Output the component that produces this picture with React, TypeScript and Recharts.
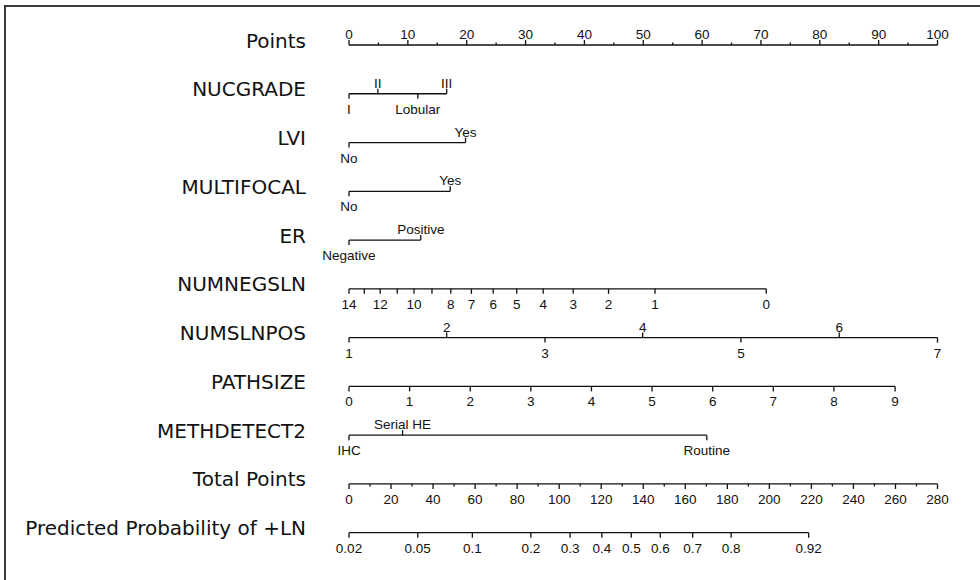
import React from "react";
import { ComposedChart, Line, XAxis, YAxis } from "recharts";

const ROW_NAMES = [
  "Points", "NUCGRADE", "LVI", "MULTIFOCAL", "ER", "NUMNEGSLN",
  "NUMSLNPOS", "PATHSIZE", "METHDETECT2", "Total Points", "Predicted Probability of +LN",
];

// points scale (0-100), minor ticks every 5
const POINTS_VALUES = [0, 5, 10, 15, 20, 25, 30, 35, 40, 45, 50, 55, 60, 65, 70, 75, 80, 85, 90, 95, 100];

const NUCGRADE_LABELS = ["I", "II", "Lobular", "III"];
const NUCGRADE_PTS = [0, 4.9, 11.7, 16.6];
const NUCGRADE_SIDE = ["down", "up", "down", "up"];

const LVI_LABELS = ["No", "Yes"];
const LVI_PTS = [0, 19.8];

const MULTIFOCAL_LABELS = ["No", "Yes"];
const MULTIFOCAL_PTS = [0, 17.2];

const ER_LABELS = ["Negative", "Positive"];
const ER_PTS = [0, 12.2];

const NUMNEGSLN_LABELS = ["14", "", "12", "", "10", "", "8", "7", "6", "5", "4", "3", "2", "1", "0"];
const NUMNEGSLN_PTS = [0, 2.6, 5.3, 8.2, 11.05, 14.1, 17.3, 20.8, 24.5, 28.5, 33.0, 38.1, 44.1, 52.0, 70.9];

const NUMSLNPOS_LABELS = ["1", "2", "3", "4", "5", "6", "7"];
const NUMSLNPOS_PTS = [0, 16.6, 33.3, 49.9, 66.6, 83.3, 100];

const PATHSIZE_LABELS = ["0", "1", "2", "3", "4", "5", "6", "7", "8", "9"];
const PATHSIZE_PTS = [0, 10.3, 20.6, 30.9, 41.2, 51.5, 61.8, 72.1, 82.4, 92.8];

const METHDETECT_LABELS = ["IHC", "Serial HE", "Routine"];
const METHDETECT_PTS = [0, 9.1, 60.8];
const METHDETECT_SIDE = ["down", "up", "down"];

// total points scale (0-280), minor ticks every 10
const TOTAL_VALUES = [0, 10, 20, 30, 40, 50, 60, 70, 80, 90, 100, 110, 120, 130, 140, 150, 160, 170, 180, 190, 200, 210, 220, 230, 240, 250, 260, 270, 280];

const PROB_LABELS = ["0.02", "0.05", "0.1", "0.2", "0.3", "0.4", "0.5", "0.6", "0.7", "0.8", "0.92"];
const PROB_TOTAL = [0, 32.7, 58.7, 86.5, 105.2, 120.3, 134.3, 148.1, 163.5, 181.8, 218.7];

type Item = { p: number; row: number; label: string; side: string; minor?: boolean };

const build = (row: number, pts: number[], labels: string[], side: (i: number) => string, minor?: (i: number) => boolean): Item[] =>
  pts.map((p, i) => ({ p, row, label: labels[i], side: side(i), minor: minor ? minor(i) : false }));

const ROWS: { id: string; axis: string; items: Item[] }[] = [
  { id: "points", axis: "pts", items: build(0, POINTS_VALUES, POINTS_VALUES.map(v => (v % 10 === 0 ? String(v) : "")), () => "up", i => POINTS_VALUES[i] % 10 !== 0) },
  { id: "nuc", axis: "pts", items: build(1, NUCGRADE_PTS, NUCGRADE_LABELS, i => NUCGRADE_SIDE[i]) },
  { id: "lvi", axis: "pts", items: build(2, LVI_PTS, LVI_LABELS, i => (i === 0 ? "down" : "up")) },
  { id: "multi", axis: "pts", items: build(3, MULTIFOCAL_PTS, MULTIFOCAL_LABELS, i => (i === 0 ? "down" : "up")) },
  { id: "er", axis: "pts", items: build(4, ER_PTS, ER_LABELS, i => (i === 0 ? "down" : "up")) },
  { id: "neg", axis: "pts", items: build(5, NUMNEGSLN_PTS, NUMNEGSLN_LABELS, () => "down") },
  { id: "pos", axis: "pts", items: build(6, NUMSLNPOS_PTS, NUMSLNPOS_LABELS, i => (i % 2 === 0 ? "down" : "up")) },
  { id: "size", axis: "pts", items: build(7, PATHSIZE_PTS, PATHSIZE_LABELS, () => "down") },
  { id: "meth", axis: "pts", items: build(8, METHDETECT_PTS, METHDETECT_LABELS, i => METHDETECT_SIDE[i]) },
  { id: "total", axis: "tot", items: build(9, TOTAL_VALUES, TOTAL_VALUES.map(v => (v % 20 === 0 ? String(v) : "")), () => "down", i => TOTAL_VALUES[i] % 20 !== 0) },
  { id: "prob", axis: "tot", items: build(10, PROB_TOTAL, PROB_LABELS, () => "down") },
];

const INK = "#111";

const makeDot = (id: string) => (props: any) => {
  const { cx, cy, payload, index } = props;
  const up = payload.side === "up";
  const len = payload.minor ? 2.5 : 5;
  return (
    <g key={`${id}-${index}`}>
      <line x1={cx} x2={cx} y1={cy} y2={up ? cy - len : cy + len} stroke={INK} strokeWidth={1.3} />
      {payload.label ? (
        <text x={cx} y={up ? cy - 6 : cy + 20} textAnchor="middle" fontSize={13.5}
          fontFamily="'Liberation Sans', Arial, sans-serif" fill={INK}>
          {payload.label}
        </text>
      ) : null}
    </g>
  );
};

const RowLabel = ({ x, y, payload }: any) => (
  <text x={x - 43} y={y} dy={2.5} textAnchor="end" fontSize={20}
    fontFamily="'DejaVu Sans', Verdana, sans-serif" fill={INK}>
    {ROW_NAMES[payload.value]}
  </text>
);

export default function App() {
  return (
    <div style={{ position: "absolute", left: 0, top: 0, width: 980, height: 580, background: "#fff" }}>
      <div style={{ position: "absolute", left: 4, top: 5, width: 976, height: 575, borderTop: "2px solid #3a3a3a", borderLeft: "2px solid #3a3a3a" }} />
      <div style={{ position: "absolute", left: 0, top: 0 }}>
        <ComposedChart width={980} height={580} margin={{ top: 45, right: 42.5, bottom: 47.3, left: 6 }}>
          <XAxis xAxisId="pts" dataKey="p" type="number" domain={[0, 100]} hide />
          <XAxis xAxisId="tot" dataKey="p" type="number" domain={[0, 280]} hide />
          <YAxis type="number" domain={[0, 10]} reversed width={343}
            ticks={[0, 1, 2, 3, 4, 5, 6, 7, 8, 9, 10]} axisLine={false} tickLine={false}
            tickSize={0} tickMargin={0} tick={<RowLabel />} interval={0} />
          {ROWS.map(r => (
            <Line key={r.id} data={r.items} xAxisId={r.axis} dataKey="row" stroke={INK} strokeWidth={1.3}
              dot={makeDot(r.id)} activeDot={false} isAnimationActive={false} legendType="none" />
          ))}
        </ComposedChart>
      </div>
    </div>
  );
}
